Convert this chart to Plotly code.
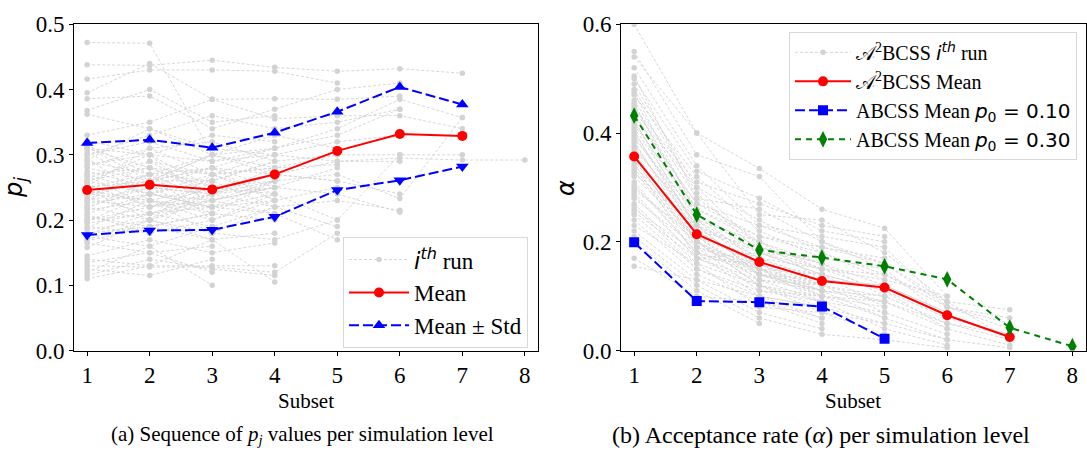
import plotly.graph_objects as go

# ---------------- data: left panel (p_j per subset) ----------------
subsets = [1, 2, 3, 4, 5, 6, 7, 8]
pj_mean = [0.246, 0.254, 0.247, 0.270, 0.306, 0.332, 0.329]
pj_plus = [0.318, 0.323, 0.311, 0.334, 0.366, 0.404, 0.377]
pj_minus = [0.177, 0.184, 0.185, 0.205, 0.246, 0.261, 0.282]

pj_runs = [
    [0.472, 0.471, 0.300],
    [0.438, 0.437, 0.445, 0.434, 0.428, 0.432, 0.425],
    [0.416, 0.430, 0.430, 0.428, 0.410],
    [0.395, 0.440, 0.385, 0.386, 0.385, 0.390],
    [0.386, 0.390, 0.340, 0.370, 0.400, 0.410],
    [0.368, 0.400, 0.350, 0.360],
    [0.362, 0.340, 0.300, 0.330, 0.310],
    [0.330, 0.350, 0.385, 0.355, 0.360, 0.360, 0.340],
    [0.322, 0.300, 0.330, 0.320],
    [0.310, 0.280, 0.270, 0.280, 0.300],
    [0.300, 0.320, 0.290, 0.310, 0.330, 0.370],
    [0.290, 0.270, 0.260, 0.290, 0.300, 0.300, 0.300],
    [0.285, 0.300, 0.250],
    [0.280, 0.260, 0.280, 0.270, 0.260],
    [0.275, 0.250, 0.240, 0.270, 0.290, 0.295, 0.292, 0.292],
    [0.270, 0.240, 0.230],
    [0.265, 0.290, 0.270, 0.280, 0.285],
    [0.260, 0.280, 0.250, 0.260],
    [0.255, 0.220, 0.240],
    [0.250, 0.260, 0.300, 0.270, 0.260, 0.240],
    [0.245, 0.230, 0.220, 0.240],
    [0.240, 0.260, 0.260],
    [0.235, 0.210, 0.230, 0.250, 0.280],
    [0.230, 0.250, 0.210],
    [0.225, 0.240, 0.260, 0.220],
    [0.220, 0.200, 0.240],
    [0.215, 0.230, 0.200, 0.230, 0.250],
    [0.210, 0.240, 0.220],
    [0.205, 0.190, 0.210, 0.200],
    [0.200, 0.220, 0.250],
    [0.195, 0.210, 0.190, 0.220, 0.230, 0.215],
    [0.190, 0.180, 0.200],
    [0.185, 0.200, 0.230, 0.210],
    [0.180, 0.190, 0.170, 0.180],
    [0.175, 0.160, 0.190],
    [0.170, 0.200, 0.180, 0.170, 0.200],
    [0.165, 0.150, 0.160],
    [0.145, 0.170, 0.150, 0.165],
    [0.140, 0.130, 0.130, 0.130],
    [0.135, 0.150, 0.120],
    [0.130, 0.128, 0.128, 0.120, 0.180],
    [0.125, 0.115, 0.140],
    [0.120, 0.160, 0.100],
    [0.115, 0.140, 0.125, 0.115],
    [0.110, 0.130, 0.170, 0.105],
    [0.260, 0.240, 0.270, 0.300, 0.320, 0.330],
    [0.250, 0.270, 0.280, 0.310, 0.340, 0.385, 0.357],
    [0.230, 0.220, 0.230, 0.260, 0.270, 0.233, 0.357],
    [0.220, 0.250, 0.240, 0.250, 0.240, 0.212],
    [0.300, 0.330, 0.360, 0.340, 0.350, 0.370],
    [0.310, 0.300, 0.290, 0.300, 0.290, 0.290],
    [0.240, 0.230, 0.250, 0.240, 0.200, 0.300],
    [0.270, 0.280, 0.240, 0.220, 0.190],
    [0.200, 0.210, 0.220, 0.210, 0.170],
    [0.315, 0.270, 0.230, 0.250],
    [0.305, 0.250, 0.280, 0.230],
    [0.295, 0.230, 0.210, 0.260],
    [0.282, 0.310, 0.270, 0.240],
    [0.268, 0.220, 0.250, 0.270],
    [0.258, 0.300, 0.220, 0.260],
    [0.248, 0.200, 0.270, 0.230],
    [0.238, 0.270, 0.200, 0.240],
    [0.228, 0.290, 0.240, 0.280],
    [0.218, 0.260, 0.280, 0.250],
    [0.208, 0.180, 0.260, 0.290],
    [0.198, 0.240, 0.220, 0.230],
    [0.188, 0.230, 0.180, 0.220],
    [0.178, 0.210, 0.240, 0.260],
    [0.168, 0.190, 0.210],
    [0.158, 0.200, 0.170],
    [0.312, 0.260, 0.300, 0.280],
    [0.292, 0.340, 0.310, 0.300],
    [0.252, 0.310, 0.320, 0.290],
    [0.232, 0.270, 0.300, 0.310],
]

# ---------------- data: right panel (acceptance rate) ----------------
a2_mean = [0.357, 0.214, 0.163, 0.128, 0.116, 0.065, 0.025]
abc_p10 = [0.199, 0.091, 0.089, 0.081, 0.022]
abc_p30 = [0.432, 0.250, 0.185, 0.171, 0.155, 0.131, 0.042, 0.008]

alpha_runs = [
    [0.600, 0.400, 0.335, 0.260, 0.225, 0.100],
    [0.550, 0.360, 0.320, 0.200, 0.150],
    [0.540, 0.400, 0.250, 0.240, 0.180, 0.090, 0.075],
    [0.500, 0.330, 0.280, 0.220, 0.200],
    [0.490, 0.300, 0.240, 0.180, 0.130, 0.100],
    [0.470, 0.320, 0.220, 0.170],
    [0.460, 0.280, 0.260, 0.200, 0.160, 0.080, 0.050],
    [0.450, 0.260, 0.200, 0.150, 0.130],
    [0.440, 0.300, 0.190, 0.160, 0.120, 0.070],
    [0.430, 0.270, 0.210, 0.190, 0.170],
    [0.420, 0.250, 0.180, 0.140, 0.110, 0.060, 0.030],
    [0.410, 0.240, 0.200, 0.130],
    [0.400, 0.230, 0.170, 0.150, 0.140, 0.090],
    [0.390, 0.250, 0.160, 0.120, 0.090],
    [0.380, 0.220, 0.190, 0.160, 0.100, 0.050, 0.020],
    [0.370, 0.240, 0.150, 0.110],
    [0.360, 0.210, 0.170, 0.130, 0.120, 0.070],
    [0.350, 0.200, 0.140, 0.100, 0.080],
    [0.340, 0.220, 0.160, 0.140, 0.110, 0.040, 0.010],
    [0.330, 0.190, 0.150, 0.120],
    [0.320, 0.210, 0.130, 0.090, 0.070, 0.030],
    [0.310, 0.180, 0.140, 0.130, 0.120],
    [0.300, 0.200, 0.120, 0.080],
    [0.290, 0.170, 0.130, 0.110, 0.060, 0.020, 0.005],
    [0.280, 0.190, 0.110, 0.100],
    [0.270, 0.160, 0.120, 0.070, 0.050],
    [0.260, 0.180, 0.100, 0.060],
    [0.250, 0.150, 0.110, 0.090, 0.040, 0.010],
    [0.240, 0.140, 0.090, 0.050],
    [0.230, 0.160, 0.080, 0.070, 0.030],
    [0.220, 0.130, 0.070, 0.040],
    [0.210, 0.120, 0.060, 0.030, 0.020, 0.005],
    [0.200, 0.110, 0.050],
    [0.170, 0.100, 0.090, 0.060],
    [0.155, 0.130, 0.100, 0.080],
    [0.520, 0.340, 0.230, 0.210, 0.190, 0.080, 0.060],
    [0.480, 0.290, 0.180, 0.170, 0.150, 0.060],
    [0.445, 0.310, 0.270, 0.230, 0.210],
    [0.415, 0.260, 0.210, 0.180, 0.140, 0.080, 0.040],
    [0.395, 0.230, 0.140, 0.110, 0.100],
    [0.365, 0.200, 0.120, 0.100, 0.090, 0.050, 0.030],
    [0.345, 0.170, 0.180, 0.140],
    [0.435, 0.270, 0.230, 0.190, 0.160, 0.090, 0.020],
    [0.355, 0.190, 0.160, 0.110, 0.090, 0.040],
    [0.305, 0.180, 0.150, 0.100, 0.060],
    [0.265, 0.150, 0.100, 0.080, 0.050, 0.020],
    [0.505, 0.280, 0.200, 0.160],
    [0.475, 0.250, 0.190, 0.150, 0.110],
    [0.455, 0.240, 0.170, 0.120],
    [0.425, 0.220, 0.150, 0.140, 0.080],
    [0.405, 0.210, 0.160, 0.100],
    [0.385, 0.200, 0.130, 0.120, 0.100],
    [0.375, 0.230, 0.180, 0.150],
    [0.335, 0.200, 0.150, 0.090],
    [0.325, 0.230, 0.140, 0.120, 0.070],
    [0.295, 0.210, 0.140, 0.110],
    [0.285, 0.170, 0.160, 0.130],
    [0.255, 0.170, 0.120, 0.090],
]

# ---------------- styling ----------------
SERIF = "Liberation Serif, Times New Roman, serif"
MATH = "DejaVu Sans, sans-serif"
GRAY = "#d3d3d3"
W, H = 1087, 461

fig = go.Figure()

ith = ("<i style='font-family:DejaVu Sans'>i</i>"
       "<sup><i style='font-family:DejaVu Sans'>th</i></sup>")

# left panel gray runs
for i, run in enumerate(pj_runs):
    fig.add_trace(go.Scatter(
        x=subsets[:len(run)], y=run, mode="lines+markers",
        line=dict(color=GRAY, width=0.9, dash="3px,2px"),
        marker=dict(color=GRAY, size=5.5),
        name=ith + " run",
        legend="legend", legendgroup="runs", showlegend=(i == 0),
        xaxis="x", yaxis="y", hoverinfo="skip"))

fig.add_trace(go.Scatter(
    x=subsets[:len(pj_mean)], y=pj_mean, mode="lines+markers",
    line=dict(color="red", width=2), marker=dict(color="red", size=10, symbol="circle"),
    name="Mean", legend="legend", legendgroup="mean", xaxis="x", yaxis="y"))
fig.add_trace(go.Scatter(
    x=subsets[:len(pj_plus)], y=pj_plus, mode="lines+markers",
    line=dict(color="blue", width=2, dash="10px,4px"),
    marker=dict(color="blue", size=11, symbol="triangle-up"),
    name="Mean ± Std", legend="legend", legendgroup="std", xaxis="x", yaxis="y"))
fig.add_trace(go.Scatter(
    x=subsets[:len(pj_minus)], y=pj_minus, mode="lines+markers",
    line=dict(color="blue", width=2, dash="10px,4px"),
    marker=dict(color="blue", size=11, symbol="triangle-down"),
    name="Mean ± Std", legend="legend", legendgroup="std", showlegend=False,
    xaxis="x", yaxis="y"))

# right panel gray runs
for i, run in enumerate(alpha_runs):
    fig.add_trace(go.Scatter(
        x=subsets[:len(run)], y=run, mode="lines+markers",
        line=dict(color=GRAY, width=0.9, dash="3px,2px"),
        marker=dict(color=GRAY, size=5.5),
        name="𝒜<sup>2</sup>BCSS " + ith + " run",
        legend="legend2", legendgroup="aruns", showlegend=(i == 0),
        xaxis="x2", yaxis="y2", hoverinfo="skip"))

fig.add_trace(go.Scatter(
    x=subsets[:len(a2_mean)], y=a2_mean, mode="lines+markers",
    line=dict(color="red", width=2), marker=dict(color="red", size=10, symbol="circle"),
    name="𝒜<sup>2</sup>BCSS Mean", legend="legend2", legendgroup="amean",
    xaxis="x2", yaxis="y2"))
fig.add_trace(go.Scatter(
    x=subsets[:len(abc_p10)], y=abc_p10, mode="lines+markers",
    line=dict(color="blue", width=2, dash="10px,4px"),
    marker=dict(color="blue", size=10, symbol="square"),
    name="ABCSS Mean <span style='font-family:DejaVu Sans'><i>p</i><sub>0</sub> = 0.10</span>",
    legend="legend2", legendgroup="p10", xaxis="x2", yaxis="y2"))
fig.add_trace(go.Scatter(
    x=subsets[:len(abc_p30)], y=abc_p30, mode="lines+markers",
    line=dict(color="green", width=2, dash="6px,5px"),
    marker=dict(color="green", size=12, symbol="diamond-tall"),
    name="ABCSS Mean <span style='font-family:DejaVu Sans'><i>p</i><sub>0</sub> = 0.30</span>",
    legend="legend2", legendgroup="p30", xaxis="x2", yaxis="y2"))

def px_x(p):
    return p / W

def px_y(p):
    return 1 - p / H

axis_common = dict(
    showgrid=False, zeroline=False, showline=True, linecolor="black", linewidth=1,
    mirror=True, ticks="outside", ticklen=4, tickwidth=1, tickcolor="black",
    tickfont=dict(family=SERIF, size=23, color="black"))

fig.update_layout(
    width=W, height=H, margin=dict(l=0, r=0, t=0, b=0),
    plot_bgcolor="white", paper_bgcolor="white",
    xaxis=dict(domain=[px_x(74), px_x(538)], range=[0.79, 8.21],
               tickvals=subsets, anchor="y", **axis_common),
    yaxis=dict(domain=[px_y(358), px_y(13)], range=[0, 0.5],
               tickvals=[0, 0.1, 0.2, 0.3, 0.4, 0.5], tickformat=".1f",
               anchor="x", **axis_common),
    xaxis2=dict(domain=[px_x(621), px_x(1085.5)], range=[0.79, 8.21],
                tickvals=subsets, anchor="y2", **axis_common),
    yaxis2=dict(domain=[px_y(358), px_y(13)], range=[0, 0.6],
                tickvals=[0, 0.2, 0.4, 0.6], tickformat=".1f",
                anchor="x2", **axis_common),
    legend=dict(x=px_x(528), y=px_y(238), xanchor="right", yanchor="top",
                bgcolor="rgba(255,255,255,0.85)", bordercolor="#d8d8d8", borderwidth=1,
                font=dict(family=SERIF, size=23, color="black"),
                traceorder="grouped", tracegroupgap=0, itemwidth=60),
    legend2=dict(x=px_x(1077), y=px_y(21), xanchor="right", yanchor="top",
                 bgcolor="rgba(255,255,255,0.85)", bordercolor="#d8d8d8", borderwidth=1,
                 font=dict(family=SERIF, size=20, color="black"),
                 traceorder="grouped", tracegroupgap=0, itemwidth=56),
    showlegend=True,
)

annots = [
    dict(text="Subset", x=px_x(306), y=px_y(411), font=dict(family=SERIF, size=21)),
    dict(text="Subset", x=px_x(853), y=px_y(411), font=dict(family=SERIF, size=21)),
    dict(text="<i>p<sub>j</sub></i>", x=px_x(16), y=px_y(186), textangle=-90,
         font=dict(family=MATH, size=24)),
    dict(text="<i>α</i>", x=px_x(566), y=px_y(186), textangle=-90,
         font=dict(family=MATH, size=24)),
    dict(text="(a) Sequence of <i>p<sub>j</sub></i> values per simulation level",
         x=px_x(302), y=px_y(447), font=dict(family=SERIF, size=21)),
    dict(text="(b) Acceptance rate (<i>α</i>) per simulation level",
         x=px_x(821), y=px_y(447), font=dict(family=SERIF, size=24)),
]
for a in annots:
    a.update(xref="paper", yref="paper", showarrow=False, xanchor="center", yanchor="middle")
    a["font"]["color"] = "black"
fig.update_layout(annotations=annots)

fig.write_html("out.html")
